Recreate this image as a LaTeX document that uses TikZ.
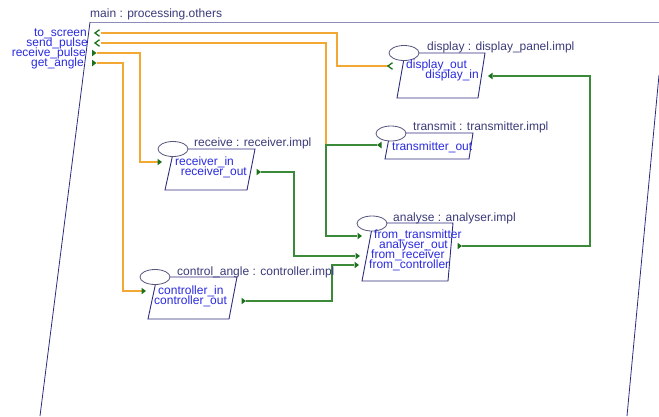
\documentclass[tikz,border=0pt]{standalone}
\usepackage{fontspec}
\setmainfont{Liberation Sans}
\definecolor{framec}{HTML}{2C2C7C}
\definecolor{topc}{HTML}{8C8CB8}
\definecolor{titlec}{HTML}{3A3A7A}
\definecolor{portc}{HTML}{2A2AE0}
\definecolor{lidc}{HTML}{55557F}
\definecolor{orangec}{HTML}{F2A833}
\definecolor{greenc}{HTML}{3A8A3A}
\definecolor{markc}{HTML}{1C701C}
\begin{document}
\begin{tikzpicture}[x=1pt,y=-1pt,
  font=\fontsize{12}{12}\selectfont,
  txt/.style={inner sep=0pt, text height=8.6pt, text depth=2.5pt},
  title/.style={txt, text=titlec, anchor=west},
  plabel/.style={txt, text=portc},
  box/.style={draw=framec, line width=0.9pt, line join=miter},
  lid/.style={draw=lidc, fill=white, line width=0.8pt},
  flowo/.style={draw=orangec, line width=1.1pt},
  flowg/.style={draw=greenc, line width=1.1pt},
  tri right/.pic={\fill[markc] (0,0) -- (-4.5,-3.3) -- (-4.5,3.3) -- cycle;},
  tri left/.pic={\fill[markc] (0,0) -- (4.5,-3.3) -- (4.5,3.3) -- cycle;},
  chev left/.pic={\draw[markc, line width=1.3pt] (4.5,-3.3) -- (0,0) -- (4.5,3.3);}
]
\useasboundingbox (0,0) rectangle (659,416);

% ---- enclosing system: main ----
\draw[draw=topc, line width=1pt] (90,22) -- (659,22);
\draw[draw=framec, line width=0.8pt] (90,22) -- (40,416);
\draw[draw=framec, line width=0.8pt] (659,75) -- (627,416);
\node[title] (mainT) at (90,14) {main : processing.others};

% ---- port anchor points (where connectors attach) ----
\coordinate (m_ts) at (101,33);
\coordinate (m_sp) at (101,43);
\coordinate (m_rp) at (97,53);
\coordinate (m_ga) at (97,63);
\coordinate (d_out) at (388,66);
\coordinate (d_in) at (493,76);
\coordinate (t_out) at (377,145);
\coordinate (r_in) at (158,162);
\coordinate (r_out) at (261,172);
\coordinate (a_ft) at (357,236);
\coordinate (a_out) at (462,246);
\coordinate (a_fr) at (355,256);
\coordinate (a_fc) at (354,265);
\coordinate (c_in) at (142,291);
\coordinate (c_out) at (246,301);

% bend columns and junction
\coordinate (bx1) at (337,0);
\coordinate (j1) at (326,145);
\coordinate (bx3) at (140,0);
\coordinate (bx4) at (123,0);
\coordinate (bx5) at (294,0);
\coordinate (bx6) at (332,0);
\coordinate (bx7) at (590,0);

% ---- connections ----
\draw[flowo] (m_ts) -| (bx1 |- d_out) -- (d_out);
\draw[flowo] (m_sp) -| (j1);
\draw[flowg] (t_out) -- (j1) -- (j1 |- a_ft) -- (a_ft);
\draw[flowo] (m_rp) -| (bx3 |- r_in) -- (r_in);
\draw[flowo] (m_ga) -| (bx4 |- c_in) -- (c_in);
\draw[flowg] (r_out) -| (bx5 |- a_fr) -- (a_fr);
\draw[flowg] (c_out) -| (bx6 |- a_fc) -- (a_fc);
\draw[flowg] (a_out) -| (bx7 |- d_in) -- (d_in);

% ---- display : display_panel.impl ----
\draw[box] (405,53) -- (485,53) -- (478,98) -- (397,98) -- cycle;
\draw[lid] (404,53) ellipse (15 and 7.5);
\node[title] (dispT) at (427,47) {display : display\_panel.impl};
\node[plabel, anchor=west] (dispOutL) at (406,65) {display\_out};
\node[plabel, anchor=east] (dispInL) at (479,75) {display\_in};

% ---- transmit : transmitter.impl ----
\draw[box] (390,133) -- (473,133) -- (469,159) -- (385,159) -- cycle;
\draw[lid] (391,133.5) ellipse (15 and 7.5);
\node[title] (transT) at (413,127) {transmit : transmitter.impl};
\node[plabel, anchor=west] (transOutL) at (392,147) {transmitter\_out};

% ---- receive : receiver.impl ----
\draw[box] (174,149) -- (255,149) -- (247,190) -- (165,190) -- cycle;
\draw[lid] (173,149) ellipse (15 and 7.5);
\node[title] (recvT) at (194,143) {receive : receiver.impl};
\node[plabel, anchor=west] (recvInL) at (175,162) {receiver\_in};
\node[plabel, anchor=east] (recvOutL) at (247,172) {receiver\_out};

% ---- analyse : analyser.impl ----
\draw[box] (373,223) -- (453,223) -- (448,281) -- (362,281) -- cycle;
\draw[lid] (372,223.5) ellipse (15 and 7.5);
\node[title] (anaT) at (393,218) {analyse : analyser.impl};
\node[plabel, anchor=west] (anaFtL) at (374,235) {from\_transmitter};
\node[plabel, anchor=east] (anaOutL) at (448,245) {analyser\_out};
\node[plabel, anchor=west] (anaFrL) at (371,255) {from\_receiver};
\node[plabel, anchor=west] (anaFcL) at (369,265) {from\_controller};

% ---- control_angle : controller.impl ----
\draw[box] (157,277) -- (237,277) -- (229,319) -- (148,319) -- cycle;
\draw[lid] (155,277) ellipse (15 and 7.5);
\node[title] (ctrlT) at (177,272) {control\_angle : controller.impl};
\node[plabel, anchor=west] (ctrlInL) at (158,291) {controller\_in};
\node[plabel, anchor=west] (ctrlOutL) at (154,301) {controller\_out};

% ---- main's own port labels ----
\node[plabel, anchor=east] (tsL) at (87,33) {to\_screen};
\node[plabel, anchor=east] (spL) at (88,43) {send\_pulse};
\node[plabel, anchor=east] (rpL) at (86,53) {receive\_pulse};
\node[plabel, anchor=east] (gaL) at (84,63) {get\_angle};

% ---- port markers ----
\pic at (95,33) {chev left};
\pic at (95,43) {chev left};
\pic at (96.5,53) {tri right};
\pic at (96.5,63) {tri right};
\pic at (d_out) {chev left};
\pic at (488,76) {tri left};
\pic at (t_out) {tri left};
\pic at (162,162) {tri right};
\pic at (r_out) {tri right};
\pic at (362,236) {tri right};
\pic at (a_out) {tri right};
\pic at (360,256) {tri right};
\pic at (359,265) {tri right};
\pic at (146,291) {tri right};
\pic at (c_out) {tri right};
\end{tikzpicture}
\end{document}
